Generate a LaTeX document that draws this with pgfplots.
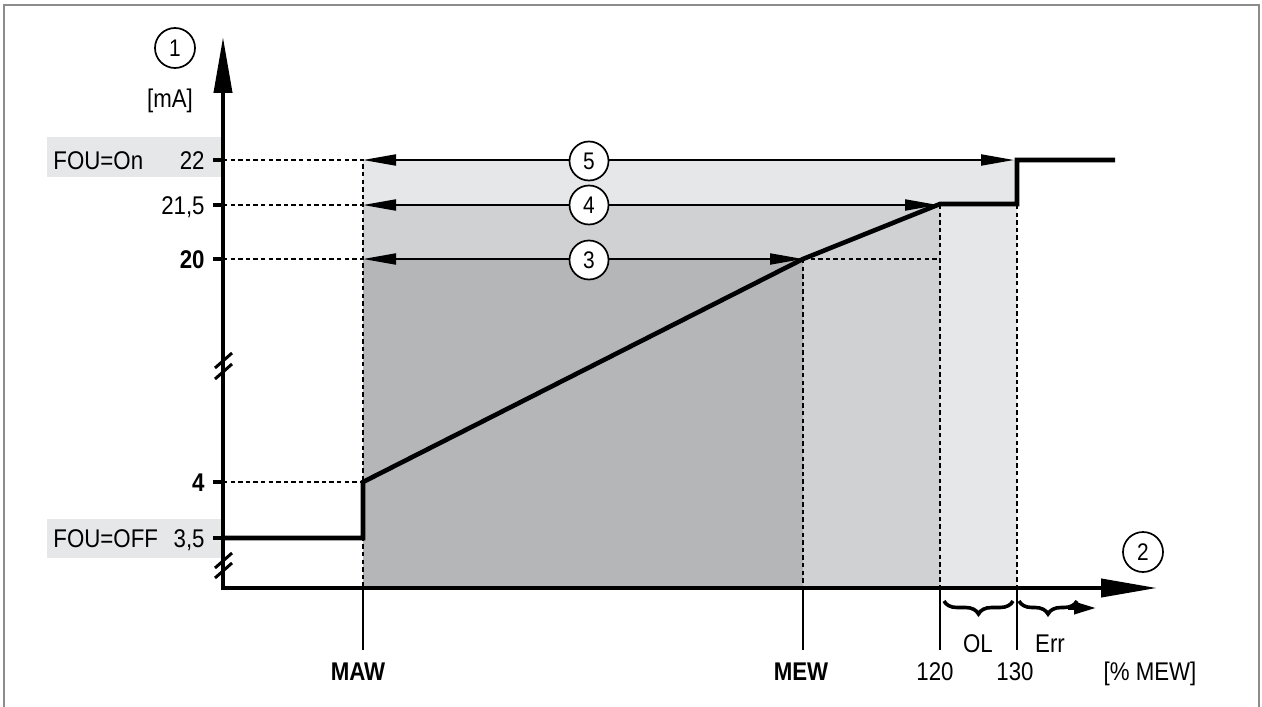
\documentclass[border=0pt]{standalone}
\usepackage{pgfplots}
\pgfplotsset{compat=1.18}
\usepackage{fontspec}
\setmainfont{Liberation Sans}[FakeStretch=0.87]
\usetikzlibrary{arrows.meta,decorations.pathreplacing}
\definecolor{g1}{RGB}{230,231,232}
\definecolor{g2}{RGB}{208,209,211}
\definecolor{g3}{RGB}{181,182,184}
\definecolor{framec}{RGB}{140,140,140}
\newcommand\fs{\fontsize{12.8}{15}\selectfont}
\tikzset{
  dsh/.style={line width=0.75pt, dash pattern=on 2.2pt off 1.6pt, black},
  tri/.tip={Triangle[length=16.5pt,width=5.5pt]},
  big/.tip={Triangle[length=28pt,width=9pt]},
  circ/.style={circle, draw, line width=0.85pt, fill=white, minimum size=19.5pt, inner sep=0pt, font=\fontsize{12}{14}\selectfont},
}
\begin{document}
\begin{tikzpicture}[font=\fs]
\begin{axis}[hide axis, scale only axis, width=631pt, height=353pt,
  xmin=0, xmax=1262, ymin=0, ymax=706, y dir=reverse, clip=false, no markers]
% frame
\addplot[framec, line width=1.2pt] coordinates {(4,712) (4,5) (1259,5) (1259,712)};
% shaded regions
\addplot[draw=none, fill=g1] coordinates {(363,160)(1017,160)(1017,588)(363,588)} -- cycle;
\addplot[draw=none, fill=g2] coordinates {(363,205)(940,205)(940,588)(363,588)} -- cycle;
\addplot[draw=none, fill=g3] coordinates {(363,259)(803,259)(803,588)(363,588)} -- cycle;
% label boxes
\addplot[draw=none, fill=g1] coordinates {(47,137)(222,137)(222,177)(47,177)} -- cycle;
\addplot[draw=none, fill=g1] coordinates {(47,519)(222,519)(222,558)(47,558)} -- cycle;
% dashed guides
\addplot[dsh] coordinates {(223,160)(363,160)(363,588)};
\addplot[dsh] coordinates {(223,205)(363,205)};
\addplot[dsh] coordinates {(223,259)(363,259)};
\addplot[dsh] coordinates {(803,259)(940,259)};
\addplot[dsh] coordinates {(223,482)(363,482)};
\addplot[dsh] coordinates {(803,259)(803,588)};
\addplot[dsh] coordinates {(940,205)(940,588)};
\addplot[dsh] coordinates {(1017,205)(1017,588)};
% range arrows
\addplot[line width=1pt, tri-tri] coordinates {(363,160)(1014,160)};
\addplot[line width=1pt, tri-tri] coordinates {(363,205)(938,205)};
\addplot[line width=1pt, tri-tri] coordinates {(363,259)(803,259)};
\node[circ] at (axis cs:589,161) {5};
\node[circ] at (axis cs:589,205) {4};
\node[circ] at (axis cs:589,260) {3};
% output curve
\addplot[line width=2.3pt, line join=miter] coordinates {(223,538)(363,538)(363,482)(803,259)(940,204)(1017,204)(1017,160)(1115,160)};
% axes
\addplot[line width=2pt, line join=miter, big-big] coordinates {(223,37)(223,588)(1157,588)};
% y ticks
\addplot[line width=2pt] coordinates {(213,160)(223,160)};
\addplot[line width=2pt] coordinates {(213,205)(223,205)};
\addplot[line width=2pt] coordinates {(213,259)(223,259)};
\addplot[line width=2pt] coordinates {(213,482)(223,482)};
\addplot[line width=2pt] coordinates {(213,538)(223,538)};
% x ticks
\addplot[line width=0.8pt] coordinates {(363,588)(363,650)};
\addplot[line width=0.8pt] coordinates {(803,588)(803,650)};
\addplot[line width=0.8pt] coordinates {(940,588)(940,650)};
\addplot[line width=0.8pt] coordinates {(1017,588)(1017,650)};
% axis breaks
\addplot[line width=1.5pt] coordinates {(215,368)(232,353)};
\addplot[line width=1.5pt] coordinates {(215,379)(232,364)};
\addplot[line width=1.5pt] coordinates {(215,568)(232,553)};
\addplot[line width=1.5pt] coordinates {(215,578)(232,563)};
% braces
\draw[line width=1.8pt, decorate, decoration={brace, mirror, amplitude=6.5pt}] (axis cs:944,601) -- (axis cs:1013,601);
\draw[line width=1.8pt, decorate, decoration={brace, mirror, amplitude=6.5pt}] (axis cs:1019,601) -- (axis cs:1077,601);
\draw[line width=1.8pt, -{Triangle[length=11pt,width=6pt]}] (axis cs:1068,608) -- (axis cs:1096,608);
% circles on axes
\node[circ, minimum size=20pt] at (axis cs:175,48) {1};
\node[circ, minimum size=20pt] at (axis cs:1143,552) {2};
% texts
\node[anchor=base] at (axis cs:170,108) {[mA]};
\node[anchor=base west, inner sep=0pt] at (axis cs:53,169) {FOU=On};
\node[anchor=base east, inner sep=0pt] at (axis cs:205,169) {22};
\node[anchor=base east, inner sep=0pt] at (axis cs:205,214) {21,5};
\node[anchor=base east, inner sep=0pt] at (axis cs:205,268) {\bfseries 20};
\node[anchor=base east, inner sep=0pt] at (axis cs:205,491) {\bfseries 4};
\node[anchor=base west, inner sep=0pt] at (axis cs:53,547) {FOU=OFF};
\node[anchor=base east, inner sep=0pt] at (axis cs:205,547) {3,5};
\node[anchor=base, inner sep=0pt] at (axis cs:358,680) {\bfseries MAW};
\node[anchor=base, inner sep=0pt] at (axis cs:801,680) {\bfseries MEW};
\node[anchor=base, inner sep=0pt] at (axis cs:935,680) {120};
\node[anchor=base, inner sep=0pt] at (axis cs:1015,680) {130};
\node[anchor=base, inner sep=0pt] at (axis cs:1150,680) {[\% MEW]};
\node[anchor=base, inner sep=0pt] at (axis cs:978,652) {OL};
\node[anchor=base, inner sep=0pt] at (axis cs:1050,652) {Err};
\coordinate (BL) at (axis cs:0,706);
\coordinate (TR) at (axis cs:1262,0);
\end{axis}
\pgfresetboundingbox
\useasboundingbox (BL) rectangle (TR);
\end{tikzpicture}
\end{document}
